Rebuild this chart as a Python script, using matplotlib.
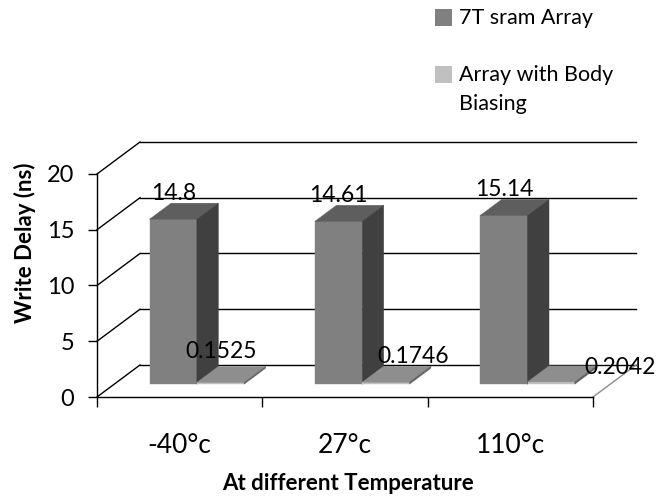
import matplotlib
matplotlib.use("Agg")
import matplotlib.pyplot as plt
from matplotlib.patches import Polygon, Rectangle

# ---------------------------------------------------------------- data
CATEGORIES = ["-40°c", "27°c", "110°c"]
SERIES_NAMES = ["7T sram Array", "Array with Body\nBiasing"]
SRAM_7T = [14.8, 14.61, 15.14]
BODY_BIAS = [0.1525, 0.1746, 0.2042]
Y_TICKS = [0, 5, 10, 15, 20]

# ---------------------------------------------------------------- style
W_PX, H_PX = 670, 498
INK = "#000000"
# front / top / side face shades per series
FACES = [("#808080", "#5e5e5e", "#404040"),
         ("#c0c0c0", "#8e8e8e", "#606060")]

DX, DY = 0.26, 2.87      # oblique depth of the back wall (data units)
F0, F1 = 0.40, 0.90      # bar front / back depth as fraction of the wall depth
BAR_W = 1 / 3.5          # Excel gap width 150%
GAP = 0.75 * BAR_W

# label nudges in px from the bar's front-top centre to the text baseline
NUDGES = [[(0, 19), (0, 19), (0, 19)],
          [(1, 24), (27, 19), (69, 8)]]

plt.rcParams.update({
    "font.family": ["Lato", "DejaVu Sans"],
    "axes.linewidth": 1.0,
    "axes.edgecolor": INK,
})


def fx(px):
    return px / W_PX


def fy(py):
    return 1 - py / H_PX


def fmt(v):
    return f"{v:g}"


def bar(ax, x0, v, faces):
    x1 = x0 + BAR_W
    a, b = F0, F1
    front = [(x0 + a * DX, a * DY), (x1 + a * DX, a * DY),
             (x1 + a * DX, a * DY + v), (x0 + a * DX, a * DY + v)]
    top = [(x0 + a * DX, a * DY + v), (x1 + a * DX, a * DY + v),
           (x1 + b * DX, b * DY + v), (x0 + b * DX, b * DY + v)]
    side = [(x1 + a * DX, a * DY), (x1 + b * DX, b * DY),
            (x1 + b * DX, b * DY + v), (x1 + a * DX, a * DY + v)]
    for pts, c in zip((front, top, side), faces):
        ax.add_patch(Polygon(pts, closed=True, facecolor=c, edgecolor=c,
                             linewidth=0.3, zorder=3, clip_on=False))


fig = plt.figure(figsize=(W_PX / 100, H_PX / 100), dpi=100)
ax = fig.add_axes([fx(97), fy(397), fx(593) - fx(97), fy(174) - fy(397)])
n = len(CATEGORIES)
ax.set_xlim(0, n)
ax.set_ylim(0, Y_TICKS[-1])
ax.set_facecolor("none")
for s in ("top", "right"):
    ax.spines[s].set_visible(False)

# walls: back gridlines + left-wall diagonals
for v in Y_TICKS:
    ax.plot([DX, n + DX], [v + DY, v + DY], color=INK, lw=1.0,
            zorder=1, clip_on=False)
    ax.plot([0, DX], [v, v + DY], color=INK, lw=1.0, zorder=1, clip_on=False)
# floor right edge
ax.plot([n, n + DX], [0, DY], color="#8c8c8c", lw=1.0, zorder=1, clip_on=False)

# bars, left to right
for i in range(n):
    for s, vals in enumerate((SRAM_7T, BODY_BIAS)):
        bar(ax, i + GAP + s * BAR_W, vals[i], FACES[s])

# data labels
for s, vals in enumerate((SRAM_7T, BODY_BIAS)):
    for i, v in enumerate(vals):
        cx = i + GAP + (s + 0.5) * BAR_W + F0 * DX
        cy = F0 * DY + v
        dx, dy = NUDGES[s][i]
        ax.annotate(fmt(v), xy=(cx, cy), xytext=(dx * 0.72, dy * 0.72),
                    textcoords="offset points", ha="center", va="baseline",
                    fontsize=16.5, color=INK, zorder=5, annotation_clip=False)

# axes ticks
ax.set_yticks(Y_TICKS)
ax.tick_params(axis="y", direction="out", length=6.5, width=1.0,
               pad=10, labelsize=17, colors=INK)
ax.set_xticks(range(n + 1))
ax.set_xticklabels([])
ax.set_xticks([i + 0.5 for i in range(n)], minor=True)
ax.set_xticklabels(CATEGORIES, minor=True)
ax.tick_params(axis="x", which="major", direction="out", length=7.2, width=1.0)
ax.tick_params(axis="x", which="minor", length=0, pad=26, labelsize=19)

fig.text(fx(348), fy(490), "At different Temperature", ha="center",
         va="baseline", fontsize=16, fontweight="bold")
fig.text(fx(25), fy(243), "Write Delay (ns)", ha="center", va="center",
         rotation=90, fontsize=16, fontweight="bold")

# legend
for s, name in enumerate(SERIES_NAMES):
    top = 9 + s * 57
    fig.patches.append(Rectangle((fx(435), fy(top + 17)), 17 / W_PX, 17 / H_PX,
                                 transform=fig.transFigure,
                                 facecolor=FACES[s][0], edgecolor="none"))
    for j, line in enumerate(name.split("\n")):
        fig.text(fx(459), fy(top + 15 + j * 29), line, ha="left",
                 va="baseline", fontsize=15.5)

fig.savefig("out.png", dpi=100)
